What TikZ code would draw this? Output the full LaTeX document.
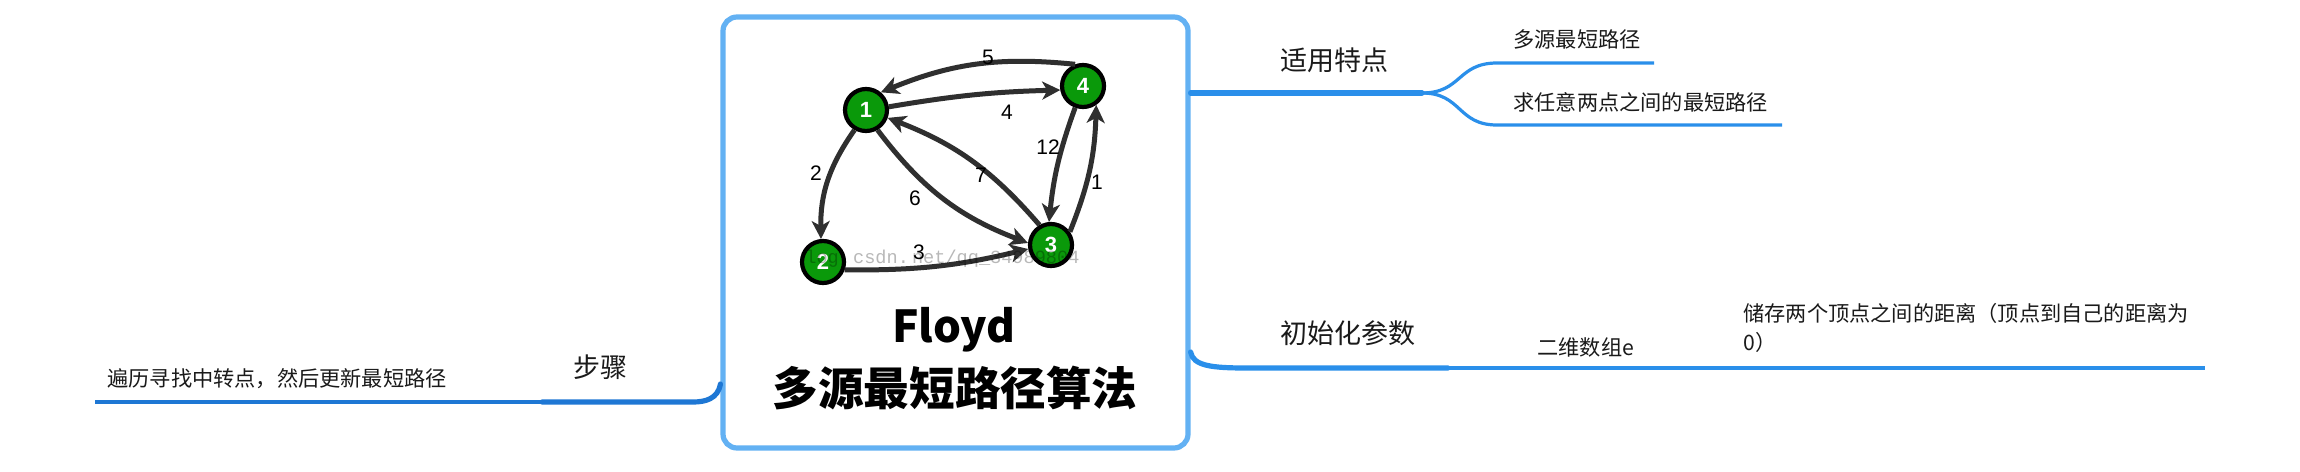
\documentclass[tikz,border=0pt]{standalone}
\usepackage{fontspec}
\setmainfont{Liberation Sans}
\newfontfamily\cjk{Noto Sans CJK SC}
\newfontfamily\wmfont{Liberation Mono}
\usetikzlibrary{arrows.meta}
\definecolor{boxblue}{HTML}{63B1F3}
\definecolor{brblue}{HTML}{2A8FEA}
\definecolor{brdark}{HTML}{1E77D4}
\definecolor{ngreen}{HTML}{0A990A}
\definecolor{edgegray}{HTML}{2F2F2F}
\definecolor{txt}{HTML}{1A1A1A}
\tikzset{
  gnode/.style={circle,draw=black,line width=2.1pt,fill=ngreen,minimum size=21pt,inner sep=0pt,
    text=white,font=\fontsize{11pt}{12pt}\selectfont\bfseries},
  gedge/.style={draw=edgegray,line width=2.5pt,-{Stealth[length=9pt,width=9pt,inset=2.5pt]}},
  elabel/.style={font=\fontsize{10.5pt}{12pt}\selectfont,text=black,inner sep=0pt},
  bigtopic/.style={font=\cjk\fontsize{13.5pt}{16pt}\selectfont,text=txt,inner sep=0pt},
  subtopic/.style={font=\cjk\fontsize{10.6pt}{14.5pt}\selectfont,text=txt,inner sep=0pt},
  thickbr/.style={line width=2.6pt,line cap=round},
  thinbr/.style={line width=1.6pt,line cap=butt},
}
\begin{document}
\begin{tikzpicture}[x=0.5pt,y=-0.5pt]
\useasboundingbox (0,0) rectangle (2300,471);
\fill[white] (0,0) rectangle (2300,471);

% central box
\node[draw=boxblue,line width=2.6pt,rounded corners=7pt,minimum width=232.5pt,minimum height=215.5pt,inner sep=0pt]
  (box) at (955.5,232.5) {};

% graph
\node[gnode] (n1) at (866,110) {1};
\node[gnode] (n4) at (1083,86) {4};
\node[gnode] (n3) at (1051,245) {3};
\node[gnode] (n2) at (823,262) {2};

\draw[gedge] (n4.110) to[bend right=14] (n1.50);
\draw[gedge] (n1.8) to[bend left=4] (n4.190);
\draw[gedge] (n3.120) to[bend right=14] (n1.-20);
\draw[gedge] (n1.-60) to[bend right=16] (n3.175);
\draw[gedge] (n4.-110) to[bend right=7] (n3.95);
\draw[gedge] (n3.35) to[bend right=10] (n4.-55);
\draw[gedge] (n1.-120) to[bend right=18] (n2.95);
\draw[gedge] (n2.-20) to[bend right=7] (n3.190);

\node[elabel] (l5) at (988,57) {5};
\node[elabel] (l4) at (1007,112) {4};
\node[elabel] (l12) at (1048,147) {12};
\node[elabel] (l7) at (981,175) {7};
\node[elabel] (l1) at (1097,182) {1};
\node[elabel] (l2) at (816,173) {2};
\node[elabel] (l6) at (915,198) {6};
\node[elabel] (l3) at (919,252) {3};

% watermark text over the image
\node[font=\wmfont\fontsize{9.3pt}{11pt}\selectfont,text=black,opacity=0.28,anchor=west,inner sep=0pt] (wm) at (805,259) {log.\,csdn.\,net/qq\_34989804};

% title
\node[font=\cjk\bfseries\fontsize{22pt}{26pt}\selectfont,anchor=base,inner sep=0pt] (t1) at (954,342) {Floyd};
\node[font=\cjk\bfseries\fontsize{22.8pt}{26pt}\selectfont,inner sep=0pt] (t2) at (955,388) {多源最短路径算法};

% right upper branch
\coordinate (ra) at (box.east |- 0,93);
\coordinate (rs) at (1422,93);
\coordinate (ru) at (1497,63);
\coordinate (rue) at (1654,63);
\coordinate (rl) at (1497,125);
\coordinate (rle) at (1782,125);
\draw[brblue,thickbr] (ra) -- (rs);
\draw[brblue,thinbr] (rs) .. controls (1462,93) and (1457,63) .. (ru) -- (rue);
\draw[brblue,thinbr] (rs) .. controls (1462,93) and (1457,125) .. (rl) -- (rle);
\node[bigtopic] (k1) at (1334,60) {适用特点};
\node[subtopic,anchor=west] (k1a) at (1513,39) {多源最短路径};
\node[subtopic,anchor=west] (k1b) at (1513,102) {求任意两点之间的最短路径};

% right lower branch
\coordinate (qa) at (box.east |- 0,352);
\coordinate (qb) at (1247,368);
\coordinate (qc) at (1448,368);
\coordinate (qe) at (2205,368);
\draw[brblue,thickbr] (qa) .. controls (1193,366) and (1212,368) .. (qb) -- (qc);
\draw[brblue,thinbr] (qc) -- (qe);
\node[bigtopic] (k2) at (1348,333) {初始化参数};
\node[subtopic,anchor=west] (k2a) at (1537,347) {二维数组e};
\node[subtopic,anchor=north west,align=left] (k2b) at (1743,303) {储存两个顶点之间的距离（顶点到自己的距离为\\0）};

% left branch
\coordinate (pa) at (box.west |- 0,384);
\coordinate (pb) at (693,402);
\coordinate (pc) at (542,402);
\coordinate (pe) at (95,402);
\draw[brdark,thickbr] (pa) .. controls (718,399) and (705,402) .. (pb) -- (pc);
\draw[brdark,thinbr] (pc) -- (pe);
\node[bigtopic] (k3) at (600,367) {步骤};
\node[subtopic,anchor=west] (k3a) at (107,379) {遍历寻找中转点，然后更新最短路径};
\end{tikzpicture}
\end{document}
